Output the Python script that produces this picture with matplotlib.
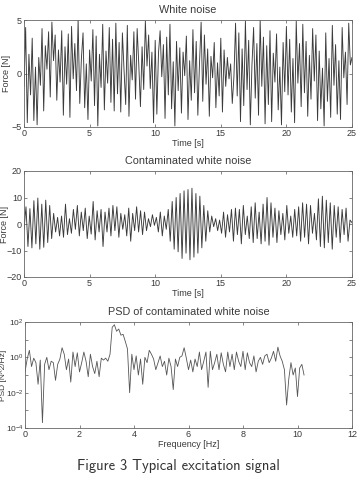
import numpy as np
import matplotlib
matplotlib.use("Agg")
import matplotlib.pyplot as plt
from matplotlib.ticker import FixedLocator, FuncFormatter

# white noise, 8 samples per second, 0..25 s
white = [
    -1.2, 4.3, -4.6, 1.8, -2.0, 3.3, -4.4, 0.6,
    -4.8, 1.5, -1.1, 4.2, -3.5, 2.6, 0.4, 3.9,
    -2.2, 4.8, 1.2, 3.6, -2.5, 2.2, -0.8, 4.0,
    -3.9, 2.5, -1.0, 3.7, -4.1, 4.4, -0.5, 2.8,
    -1.6, 5.0, -2.8, 1.4, 3.8, -3.2, 0.9, -4.3,
    2.2, -0.7, 4.1, -3.0, 3.5, -4.9, 1.8, -1.3,
    4.6, -3.4, 2.1, -0.9, 4.3, -2.7, 3.2, -3.5,
    4.7, -1.9, 2.9, -3.6, 3.8, 0.3, -2.9, 4.5,
    -4.0, 1.7, -0.6, 3.9, -2.4, 4.2, 0.8, -3.1,
    2.5, -1.5, 4.9, 0.7, 3.6, -1.4, 2.0, -4.6,
    3.1, -3.8, 1.9, 4.0, -0.3, 2.7, -4.2, 3.4,
    -2.0, 4.6, -3.3, 1.1, -4.9, 3.0, -1.6, 2.4,
    -3.7, 2.0, -0.2, 3.5, -4.3, 1.2, -2.5, 4.1,
    -1.8, 3.0, -3.9, 0.9, 4.8, -2.6, 3.6, -1.0,
    2.3, -4.0, 1.6, -0.4, 2.9, -3.2, 1.0, -2.1,
    3.3, -3.6, 2.2, -1.2, 1.5, -0.5, 0.9, -2.8,
    -0.3, 4.7, -2.1, 3.8, -4.5, 2.3, -3.0, 4.9,
    -1.5, 3.1, -4.8, 0.8, 4.3, -2.3, 2.8, -3.9,
    5.0, -1.2, 3.4, -4.7, 2.6, -2.9, 4.0, -4.5,
    1.9, -0.8, 3.7, -3.4, 0.6, -4.8, 2.9, -1.7,
    4.4, -2.0, 3.2, -3.6, 1.4, -4.6, 4.9, -0.9,
    2.8, -3.1, 4.6, -1.8, 3.0, -4.0, 1.7, -2.4,
    4.2, -0.7, 3.6, -4.4, 2.1, -3.3, 0.5, -4.9,
    3.8, -2.6, 1.4, -4.1, 4.5, -1.1, 2.7, -3.8,
    1.2, -4.3, 4.3, -0.4, 2.0, -2.9, 4.7, 0.8,
    1.5,
]

# contaminated white noise, peaks and troughs (~3.3 Hz)
contam = [
    -2.0, 6.5, -8.5, 5.8, -9.0, 8.8, -7.5, 9.8, -9.5, 7.5,
    -8.8, 9.0, -7.0, 7.0, -5.5, 4.0, -3.0, 2.5, -4.5, 3.0,
    -5.0, 7.5, -4.0, 2.0, -3.5, 5.5, -2.0, 7.0, -4.5, 4.5,
    -2.5, 6.0, -5.5, 3.0, -3.8, 8.5, -6.0, 5.0, -3.0, 5.5,
    -8.5, 4.5, -3.0, 6.0, -4.5, 7.0, -2.5, 6.5, -5.0, 4.0,
    -2.0, 3.5, -4.5, 6.0, -6.5, 4.0, -2.5, 6.5, -3.0, 5.0,
    -4.0, 4.5, -2.5, 2.0, -1.0, 3.5, -0.5, 2.5, -3.0, 4.5,
    -4.5, 3.0, -2.0, 5.5, -6.5, 8.5, -9.5, 10.0, -10.5, 11.5,
    -13.0, 12.5, -11.0, 13.0, -13.5, 13.5, -12.5, 11.5, -11.0, 10.5,
    -9.0, 7.0, -6.5, 5.0, -3.0, 3.0, -1.0, 2.0, -2.5, 1.5,
    -3.5, 4.5, -5.0, 3.5, -3.0, 5.5, -6.5, 6.0, -4.0, 5.5,
    -7.5, 7.0, -4.0, 3.0, -5.5, 6.5, -7.0, 8.0, -5.5, 4.5,
    -7.5, 7.5, -6.5, 10.0, -8.0, 8.0, -5.0, 6.0, -7.0, 5.0,
    -4.0, 4.0, -6.0, 7.0, -3.5, 3.0, -5.0, 5.5, -4.5, 6.5,
    -6.5, 8.0, -5.0, 7.5, -7.5, 7.0, -3.5, 4.0, -6.0, 9.5,
    -8.5, 10.5, -9.0, 9.0, -7.0, 8.0, -9.5, 7.0, -5.0, 6.5,
    -7.0, 5.5, -4.0, 6.0, -6.5, 1.5, 0.5,
]

# PSD, 0.08 Hz spacing from 0 to 10.24 Hz
psd = [
    0.15, 0.8, 2.5, 0.3, 0.9, 0.5, 0.03, 0.7, 0.0002, 0.4,
    1.0, 0.2, 0.6, 0.5, 0.05, 0.4, 0.8, 3.5, 1.5, 0.2,
    0.8, 0.04, 2.0, 0.3, 1.8, 0.15, 0.5, 2.0, 0.6, 0.08,
    1.5, 0.3, 0.12, 0.6, 0.08, 0.9, 0.7, 0.9, 0.6, 1.5,
    50, 70, 30, 40, 18, 20, 8, 3, 0.01, 1.5,
    0.2, 1.2, 0.1, 0.8, 0.03, 1.0, 0.5, 2.5, 1.5, 0.8,
    0.2, 0.5, 1.2, 0.3, 0.6, 0.1, 0.9, 0.3, 0.015, 0.8,
    0.3, 1.0, 1.2, 3.5, 0.9, 0.2, 0.7, 0.15, 0.8, 0.3,
    2.0, 0.2, 0.6, 2.0, 0.02, 2.2, 0.2, 0.5, 1.5, 0.2,
    1.8, 0.4, 0.15, 2.0, 0.3, 1.5, 0.2, 2.0, 0.6, 0.3,
    2.2, 0.2, 1.8, 0.5, 0.3, 1.2, 0.15, 0.6, 1.0, 0.4,
    1.2, 1.5, 0.5, 0.9, 2.2, 0.6, 3.8, 1.2, 0.6, 0.2,
    0.002, 0.06, 0.5, 0.1, 0.25, 0.006, 0.25, 0.4, 0.1,
]

t_white = np.linspace(0, 25, len(white))
t_contam = np.linspace(0, 25, len(contam))
freq = np.linspace(0, 10.24, len(psd))

plt.rcParams['font.family'] = ['Liberation Sans', 'DejaVu Sans']
plt.rcParams['font.size'] = 6.5
plt.rcParams['mathtext.default'] = 'regular'
txt = '#3a3a3a'
line = '#3a3a3a'

fig = plt.figure(figsize=(3.64, 4.82), dpi=100)
ax1 = fig.add_axes([24 / 364, 1 - 127 / 482, 328 / 364, 107 / 482])
ax2 = fig.add_axes([24 / 364, 1 - 277 / 482, 328 / 364, 106 / 482])
ax3 = fig.add_axes([25 / 364, 1 - 428 / 482, 327 / 364, 106 / 482])

ax1.plot(t_white, white, color=line, lw=0.65)
ax1.set_xlim(0, 25)
ax1.set_ylim(-5, 5)
ax1.set_yticks([-5, 0, 5])
ax1.set_xticks([0, 5, 10, 15, 20, 25])
ax1.set_title("White noise", color=txt, pad=5)
ax1.set_xlabel("Time [s]", color=txt, labelpad=1)
ax1.set_ylabel("Force [N]", color=txt)
ax1.yaxis.set_label_coords(-13 / 328, 0.5)

ax2.plot(t_contam, contam, color=line, lw=0.65)
ax2.set_xlim(0, 25)
ax2.set_ylim(-20, 20)
ax2.set_yticks([-20, -10, 0, 10, 20])
ax2.set_xticks([0, 5, 10, 15, 20, 25])
ax2.set_title("Contaminated white noise", color=txt, pad=5)
ax2.set_xlabel("Time [s]", color=txt, labelpad=1)
ax2.set_ylabel("Force [N]", color=txt)
ax2.yaxis.set_label_coords(-15 / 328, 0.5)

ax3.semilogy(freq, psd, color='#555555', lw=0.6)
ax3.set_xlim(0, 12)
ax3.set_ylim(1e-4, 1e2)
ax3.set_xticks([0, 2, 4, 6, 8, 10, 12])
ax3.yaxis.set_major_locator(FixedLocator([1e-4, 1e-3, 1e-2, 1e-1, 1e0, 1e1, 1e2]))
ax3.yaxis.set_minor_locator(FixedLocator([]))
ax3.yaxis.set_major_formatter(FuncFormatter(
    lambda v, p: r"$10^{%d}$" % round(np.log10(v)) if round(np.log10(v)) % 2 == 0 else ""))
ax3.set_title("PSD of contaminated white noise", color=txt, pad=5)
ax3.set_xlabel("Frequency [Hz]", color=txt, labelpad=1)
ax3.set_ylabel("PSD [N^2/Hz]", color=txt, fontsize=6)
ax3.yaxis.set_label_coords(-18 / 327, 0.5)

for ax in (ax1, ax2, ax3):
    ax.tick_params(which='both', direction='in', top=True, right=True, length=2.5,
                   width=0.5, colors='#555555', labelcolor=txt, pad=1.5, labelsize=6.5)
    for s in ax.spines.values():
        s.set_linewidth(0.6)
        s.set_color('#666666')
ax3.tick_params(axis='y', labelsize=6, pad=1)

fig.text(0.49, 0.033, "Figure 3 Typical excitation signal",
         family=['cmss10', 'DejaVu Sans'], fontsize=10.5, color='#333333',
         ha='center', va='center')

fig.savefig("out.png", dpi=100)
